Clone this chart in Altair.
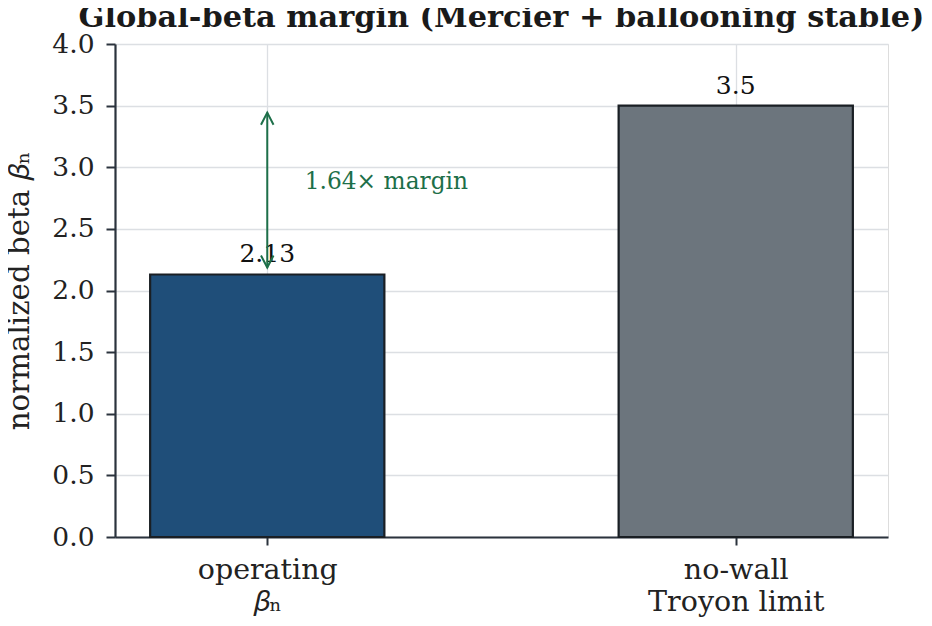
import altair as alt
import pandas as pd

# ---- data ----
positions = [0, 1]
label_line1 = ["operating", "no-wall"]
label_line2 = ["\U0001D6FD\u2099", "Troyon limit"]
values = [2.13, 3.5]
value_labels = ["2.13", "3.5"]
bar_colors = ["#1f4e79", "#6c757d"]
margin_text = "1.64\u00d7 margin"
margin_text_pos = [0.08, 2.88]
y_ticks = [0, 0.5, 1.0, 1.5, 2.0, 2.5, 3.0, 3.5, 4.0]
y_title = "normalized beta \U0001D6FD\u2099"

FONT = "DejaVu Serif"
GREEN = "#1d6f49"
DARK = "#2b333d"

bar_half = 0.25
bars_df = pd.DataFrame({
    "pos": positions,
    "lo": [p - bar_half for p in positions],
    "hi": [p + bar_half for p in positions],
    "value": values,
    "label": value_labels,
    "color": bar_colors,
})

arrow_df = pd.DataFrame({"x": [positions[0]], "y": [values[0]], "y2": [values[1]]})
head_top = pd.DataFrame({"x": [positions[0]], "y": [values[1]]})
head_bot = pd.DataFrame({"x": [positions[0]], "y": [values[0]]})
note_df = pd.DataFrame({"x": [margin_text_pos[0]], "y": [margin_text_pos[1]], "t": [margin_text]})

label_expr = " : ".join(
    f"datum.value == {p} ? ['{a}', '{b}']" for p, a, b in zip(positions, label_line1, label_line2)
) + " : ''"

x_scale = alt.Scale(domain=[-0.325, 1.325], nice=False, zero=False)
y_scale = alt.Scale(domain=[0, 4], nice=False)

x_axis = alt.Axis(
    values=positions, labelExpr=label_expr, title=None, grid=True,
    labelAngle=0, labelAlign="center", labelBaseline="top", labelLineHeight=32,
    labelFontSize=28.5, labelFont=FONT, labelColor="#222222", labelPadding=10,
    tickSize=8, tickWidth=2, tickColor=DARK, domainColor=DARK, domainWidth=2.2,
    gridColor="#dcdfe3", gridWidth=1.3, labelFlush=False,
)
y_axis = alt.Axis(
    values=y_ticks, format=".1f", title=y_title, grid=True,
    labelFontSize=26.5, labelFont=FONT, labelColor="#222222", labelPadding=12,
    tickSize=9, tickWidth=2, tickColor=DARK, domainColor=DARK, domainWidth=2.2,
    gridColor="#dcdfe3", gridWidth=1.3,
    titleFont=FONT, titleFontSize=29.3, titleFontWeight="normal", titleColor="#222222",
    titlePadding=17,
)

bars = alt.Chart(bars_df).mark_rect(stroke="#1a1f24", strokeWidth=2.2).encode(
    x=alt.X("lo:Q", scale=x_scale, axis=x_axis),
    x2="hi:Q",
    y=alt.Y("value:Q", scale=y_scale, axis=y_axis),
    y2=alt.datum(0),
    color=alt.Color("color:N", scale=None),
)

bar_text = alt.Chart(bars_df).mark_text(
    font=FONT, fontSize=25, baseline="bottom", dy=-7, color="#111111"
).encode(x="pos:Q", y="value:Q", text="label:N")

arrow = alt.Chart(arrow_df).mark_rule(
    color=GREEN, strokeWidth=2, yOffset=-7, y2Offset=7
).encode(x="x:Q", y="y:Q", y2="y2:Q")

top_head = alt.Chart(head_top).mark_point(
    shape="M-0.52,1L0,0L0.52,1", size=580, filled=False, color=GREEN,
    strokeWidth=2, opacity=1, yOffset=7,
).encode(x="x:Q", y="y:Q")

bot_head = alt.Chart(head_bot).mark_point(
    shape="M-0.52,-1L0,0L0.52,-1", size=580, filled=False, color=GREEN,
    strokeWidth=2, opacity=1, yOffset=-7,
).encode(x="x:Q", y="y:Q")

note = alt.Chart(note_df).mark_text(
    font=FONT, fontSize=23.3, align="left", baseline="middle", color=GREEN
).encode(x="x:Q", y="y:Q", text="t:N")

chart = alt.layer(bars, bar_text, arrow, top_head, bot_head, note).properties(
    width=773,
    height=493,
    autosize=alt.AutoSizeParams(type="none"),
    padding={"left": 107, "top": 36, "right": 36, "bottom": 81},
    title=alt.TitleParams(
        "Global-beta margin (Mercier + ballooning stable)",
        font=FONT, fontSize=30.4, fontWeight="bold", color="#1a1a1a",
        anchor="middle", dx=0, dy=12, offset=10, frame="group",
    ),
).configure_view(stroke=None).configure(background="white")

chart.save("out.html", embed_options={"renderer": "svg", "actions": False})
